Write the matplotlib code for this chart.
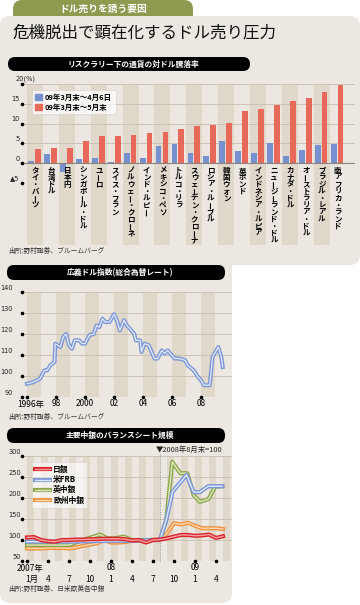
import matplotlib
matplotlib.use("Agg")
import matplotlib.pyplot as plt
import matplotlib.patheffects as pe
from matplotlib.patches import FancyBboxPatch, Patch
from matplotlib.lines import Line2D
from matplotlib.transforms import blended_transform_factory as blend, ScaledTranslation

plt.rcParams['font.family'] = ['Noto Sans CJK JP', 'DejaVu Sans']

# --- chart 1: currency change vs USD (%) ---
cur_labels = ["タイ・バーツ", "台湾ドル", "日本円", "シンガポール・ドル", "ユーロ",
              "スイス・フラン", "ノルウェー・クローネ", "インド・ルピー", "メキシコ・ペソ",
              "トルコ・リラ", "スウェーデン・クローナ", "ロシア・ルーブル", "韓国ウォン",
              "英ポンド", "インドネシア・ルピア", "ニュージーランド・ドル", "カナダ・ドル",
              "オーストラリア・ドル", "ブラジル・レアル", "南アフリカ・ランド"]
chg_apr6 = [0.5, 2.3, -2.1, 1.0, 1.2, 0.25, 2.6, 1.3, 4.3, 4.8,
            2.6, 1.8, 5.6, 3.0, 2.6, 5.2, 1.8, 3.3, 4.5, 4.8]
chg_may = [3.5, 3.9, 3.9, 5.5, 6.8, 6.8, 7.1, 7.7, 7.9, 8.7,
           9.3, 9.7, 10.2, 13.1, 13.6, 14.7, 15.6, 16.5, 18.0, 19.7]
ser1_names = ["09年3月末～4月6日", "09年3月末～5月末"]

# --- chart 2: broad dollar index ---
idx_year = [1996.0, 1996.4, 1996.7, 1996.9, 1997.2, 1997.4, 1997.6, 1997.9, 1997.95,
            1998.3, 1998.5, 1998.7, 1998.9, 1999.1, 1999.3, 1999.6, 1999.8, 2000.0,
            2000.3, 2000.6, 2000.8, 2001.0, 2001.2, 2001.4, 2001.7, 2002.0, 2002.2,
            2002.4, 2002.7, 2002.9, 2003.1, 2003.4, 2003.5, 2003.8, 2003.9, 2004.1,
            2004.4, 2004.6, 2004.8, 2005.0, 2005.3, 2005.5, 2005.7, 2005.9, 2006.2,
            2006.5, 2006.9, 2007.1, 2007.5, 2007.8, 2008.0, 2008.2, 2008.6, 2008.8,
            2009.0, 2009.2, 2009.4, 2009.5]
idx_val = [96.3, 97.0, 98.0, 98.7, 102.7, 102.7, 105.0, 106.7, 115.4,
           113.8, 118.6, 120.0, 114.6, 113.0, 117.0, 117.0, 115.4, 115.4,
           119.4, 120.0, 124.0, 123.3, 127.3, 125.7, 125.7, 129.4, 126.5,
           121.7, 126.5, 124.0, 122.5, 120.0, 117.0, 117.0, 111.4, 115.4,
           114.6, 111.4, 108.3, 108.3, 112.2, 110.6, 112.2, 110.6, 108.3,
           108.3, 107.5, 105.0, 102.7, 99.5, 98.0, 95.6, 95.6, 109.0,
           111.4, 113.8, 109.0, 104.3]
yr_ticks = [1996, 1998, 2000, 2002, 2004, 2006, 2008]
yr_labels = ["1996年", "98", "2000", "02", "04", "06", "08"]

# --- chart 3: central bank balance sheets (Aug 2008 = 100), x = months since Jan 2007 ---
boj_m = list(range(29))
boj = [106, 107, 100, 97, 96, 100, 100, 101, 101, 102, 102, 103, 103, 103, 102, 99,
       100, 94, 100, 101, 104, 108, 112, 112, 110, 111, 113, 105, 109]
frb_m = [0, 3, 6, 9, 12, 15, 18, 19, 19.9, 20.8, 22.8, 23.8, 24.7, 25.9, 27.9]
frb = [96, 96, 96, 97, 98, 98, 100, 100, 148, 215, 255, 214, 214, 228, 228]
boe_m = [0, 3, 6, 8, 10.4, 11.5, 12.5, 13.8, 15, 17, 19, 19.9, 20.76, 21.9, 22.9,
         23.8, 24.7, 25.9, 26.9, 27.9]
boe = [88, 88, 88, 100, 113, 104, 104, 108, 100, 100, 100, 148, 286, 259, 259,
       207, 191, 197, 227, 228]
ecb_m = list(range(29))
ecb = [80, 80, 80, 81, 81, 81, 80, 82, 86, 89, 92, 100, 94, 94, 95, 98,
       98, 99, 100, 100, 116, 140, 137, 141, 134, 128, 128, 128, 126]
bank_names = ["日銀", "米FRB", "英中銀", "欧州中銀"]
mo_ticks = [0, 3, 6, 9, 12, 15, 18, 21, 24, 27]
mo_labels = ["1月", "4", "7", "10", "1", "4", "7", "10", "1", "4"]
yr3_ticks = [0, 12, 24]
yr3_labels = ["2007年", "08", "09"]

W, H = 360, 605
PANEL = "#ece8e1"
BAND = "#e0d8cb"
GRID = "#cbc3b6"
BLUE = "#7690d0"
RED = "#e8685a"

fig = plt.figure(figsize=(3.6, 6.05), dpi=100)
fig.patch.set_facecolor("white")


def ax_at(x0, y0, x1, y1):
    return fig.add_axes([x0 / W, 1 - y1 / H, (x1 - x0) / W, (y1 - y0) / H])


def box(x0, y0, x1, y1, color, r, z):
    fig.add_artist(FancyBboxPatch((x0 / 100, (H - y1) / 100), (x1 - x0) / 100, (y1 - y0) / 100,
                                  boxstyle=f"round,pad=0,rounding_size={r / 100}",
                                  transform=fig.dpi_scale_trans, fc=color, ec="none", zorder=z))


def ftext(x, y, s, **kw):
    return fig.text(x / W, 1 - y / H, s, **kw)


def bare(ax):
    ax.set_facecolor("none")
    for s in ax.spines.values():
        s.set_visible(False)
    ax.set_xticks([])
    ax.set_yticks([])


# background panel, tab, title
box(13, 0, 193, 30, "#8e9a50", 9, -12)
box(0, 16, 360, 265, PANEL, 10, -10)
box(0, 16, 232, 603, PANEL, 10, -10)
ftext(103, 8.5, "ドル売りを誘う要因", ha="center", va="center", color="white",
      fontsize=7, fontweight="bold")
ftext(12, 33, "危機脱出で顕在化するドル売り圧力", ha="left", va="center", fontsize=11.9,
      color="#111")

# header bars
for (x0, y0, x1, y1, t) in [(8, 57, 250, 71, "リスクラリー下の通貨の対ドル騰落率"),
                            (7, 265, 225, 280, "広義ドル指数(総合為替レート)"),
                            (7, 428, 225, 443, "主要中銀のバランスシート規模")]:
    box(x0, y0, x1, y1, "black", 7, 1)
    ftext((x0 + x1) / 2 + 4, (y0 + y1) / 2, t, ha="center", va="center", color="white",
          fontsize=5.6, fontweight="bold", zorder=2)

# ---------------- chart 1 ----------------
ax1 = ax_at(22, 84, 355, 183)
bare(ax1)
ax1.set_xlim(-0.82, 20.1)
ax1.set_ylim(-5, 20)
n = len(cur_labels)
for i in range(0, n, 2):
    ax1.axvspan(i - 0.5, i + 0.5, ymin=-0.626, ymax=1, color=BAND, lw=0, zorder=0, clip_on=False)
for v in [5, 10, 15, 20]:
    ax1.axhline(v, color=GRID, lw=0.7, zorder=1)
ax1.axhline(0, color="#8a8379", lw=0.8, zorder=3)
xs = list(range(n))
ax1.bar([x - 0.24 for x in xs], chg_apr6, width=0.36, color=BLUE, zorder=2)
ax1.bar([x + 0.19 for x in xs], chg_may, width=0.36, color=RED, zorder=2)
# vertical (tategaki) category labels: one glyph per step, 7px pitch
PITCH = 7.0
for i, lab in enumerate(cur_labels):
    for k, ch in enumerate(lab):
        off = ScaledTranslation(0, -(7.0 + k * PITCH) / 100, fig.dpi_scale_trans)
        ax1.text(i + 0.02, 0, ch, transform=ax1.transData + off, ha="center", va="center",
                 fontsize=5.4, fontweight="bold", rotation=(90 if ch == "ー" else 0),
                 zorder=4, clip_on=False)
ax1.plot([-0.82] * 6, [-5, 0, 5, 10, 15, 20], "o", ms=1.6, color="k", clip_on=False, zorder=5)
for v, s in [(15, "15"), (10, "10"), (5, "5"), (0, "0"), (-5, "▲5")]:
    ax1.text(-0.98, v + 0.4, s, ha="right", va="bottom", fontsize=4.8, color="#222",
             family=["DejaVu Sans"])
ax1.text(-1.25, 20.4, "20(%)", ha="left", va="bottom", fontsize=4.8, color="#222",
         family=["DejaVu Sans"])
leg1 = ax1.legend(handles=[Patch(color=BLUE, label=ser1_names[0]),
                           Patch(color=RED, label=ser1_names[1])],
                  loc="upper left", bbox_to_anchor=(0.03, 0.94), fontsize=5.4, frameon=True,
                  fancybox=False, handlelength=0.9, handleheight=0.9, handletextpad=0.4,
                  borderpad=0.45, labelspacing=0.35, borderaxespad=0)
leg1.get_frame().set_facecolor("white")
leg1.get_frame().set_alpha(0.7)
leg1.get_frame().set_edgecolor("#d6d0c7")
leg1.get_frame().set_linewidth(0.6)
for t in leg1.get_texts():
    t.set_fontweight("bold")
ftext(8, 251, "出所:野村證券、ブルームバーグ", ha="left", va="center", fontsize=4.9, color="#333")

# ---------------- chart 2 ----------------
ax2 = ax_at(22, 292, 232, 397)
bare(ax2)
ax2.set_xlim(1995.655, 2010.14)
ax2.set_ylim(90, 140)
for y in range(1996, 2010, 2):
    ax2.axvspan(y, y + 1, color=BAND, lw=0, zorder=0)
for v in [90, 100, 110, 120, 130, 140]:
    ax2.axhline(v, color=GRID, lw=0.7, zorder=1)
ax2.plot(idx_year, idx_val, color="#e6ebf6", lw=0.9, zorder=3,
         path_effects=[pe.Stroke(linewidth=2.9, foreground="#7b96d8"), pe.Normal()])
ax2.plot([1995.655] * 6, [90, 100, 110, 120, 130, 140], "o", ms=1.6, color="k",
         clip_on=False, zorder=5)
ax2.plot(yr_ticks, [90] * len(yr_ticks), "o", ms=1.6, color="k", clip_on=False, zorder=5)
for v in [90, 100, 110, 120, 130, 140]:
    ax2.text(1995.0, v + 0.4, str(v), ha="right", va="bottom", fontsize=4.8, color="#222",
             family=["DejaVu Sans"])
tb2 = blend(ax2.transData, fig.transFigure)
for x, s in zip(yr_ticks, yr_labels):
    if s.endswith("年"):
        ax2.text(x - 0.7, 1 - 404 / H, s, transform=tb2, ha="left", va="center", fontsize=6)
    else:
        ax2.text(x, 1 - 404 / H, s, transform=tb2, ha="center", va="center", fontsize=6)
ftext(8, 417, "出所:野村證券、ブルームバーグ", ha="left", va="center", fontsize=4.9, color="#333")

# ---------------- chart 3 ----------------
ax3 = ax_at(22, 456, 232, 561)
bare(ax3)
ax3.set_xlim(-0.714, 29.29)
ax3.set_ylim(50, 300)
for m in range(0, 30, 2):
    ax3.axvspan(m, m + 1, color=BAND, lw=0, zorder=0)
for v in [50, 100, 150, 200, 250, 300]:
    ax3.axhline(v, color=GRID, lw=0.7, zorder=1)
ax3.axvline(19, ymin=0, ymax=1.03, color="#777", lw=0.6, ls=":", clip_on=False, zorder=2)
ax3.text(18.45, 1 - 450 / H, "▼2008年8月末=100", transform=blend(ax3.transData, fig.transFigure),
         ha="left", va="center", fontsize=5.3, color="#222")

styles = [("#d8232a", "#f4a0a0"), ("#7b96d8", "#e2e8f6"), ("#8ea64a", "#dfe7c2"),
          ("#f0913c", "#fcd9b4")]
series3 = [(boj_m, boj), (frb_m, frb), (boe_m, boe), (ecb_m, ecb)]
handles = []
for k in range(4):
    oc, ic = styles[k]
    handles.append(Line2D([], [], color=ic, lw=1.0, label=bank_names[k],
                          path_effects=[pe.Stroke(linewidth=3.0, foreground=oc), pe.Normal()]))
for k in [3, 2, 1, 0]:
    oc, ic = styles[k]
    xm, ym = series3[k]
    ax3.plot(xm, ym, color=ic, lw=1.0, zorder=3,
             path_effects=[pe.Stroke(linewidth=3.0, foreground=oc), pe.Normal()])
ax3.plot([-0.714] * 6, [50, 100, 150, 200, 250, 300], "o", ms=1.6, color="k",
         clip_on=False, zorder=5)
ax3.plot(mo_ticks, [50] * len(mo_ticks), "o", ms=1.6, color="k", clip_on=False, zorder=5)
for v in [50, 100, 150, 200, 250, 300]:
    ax3.text(-0.85, v + 2, str(v), ha="right", va="bottom", fontsize=4.8, color="#222",
             family=["DejaVu Sans"])
tb3 = blend(ax3.transData, fig.transFigure)
for x, s in zip(yr3_ticks, yr3_labels):
    if s.endswith("年"):
        ax3.text(x - 1.43, 1 - 568 / H, s, transform=tb3, ha="left", va="center", fontsize=6)
    else:
        ax3.text(x, 1 - 568 / H, s, transform=tb3, ha="center", va="center", fontsize=6)
for x, s in zip(mo_ticks, mo_labels):
    if s.endswith("月"):
        ax3.text(x - 0.3, 1 - 579 / H, s, transform=tb3, ha="left", va="center", fontsize=6)
    else:
        ax3.text(x, 1 - 579 / H, s, transform=tb3, ha="center", va="center", fontsize=6)
leg3 = ax3.legend(handles=handles, loc="upper left", bbox_to_anchor=(0.048, 0.943),
                  fontsize=5.6, frameon=True, fancybox=False, handlelength=1.9,
                  handletextpad=0.4, borderpad=0.4, labelspacing=0.15, borderaxespad=0)
leg3.get_frame().set_facecolor("white")
leg3.get_frame().set_alpha(0.6)
leg3.get_frame().set_edgecolor("#d6d0c7")
leg3.get_frame().set_linewidth(0.6)
for t in leg3.get_texts():
    t.set_fontweight("bold")
ftext(8, 589, "出所:野村證券、日米欧英各中銀", ha="left", va="center", fontsize=4.9, color="#333")

fig.savefig("out.png", dpi=100)
